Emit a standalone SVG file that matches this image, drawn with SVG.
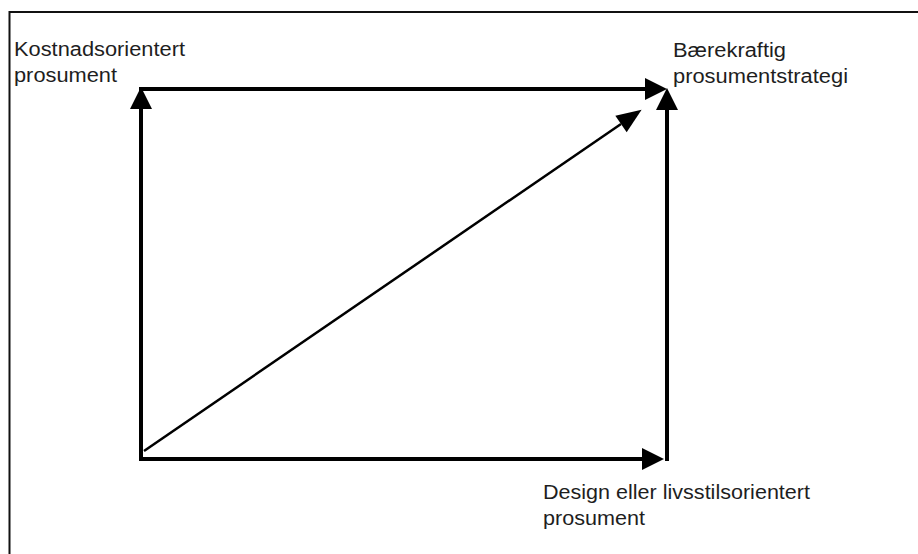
<svg xmlns="http://www.w3.org/2000/svg" width="918" height="554" viewBox="0 0 918 554">
  <style>
    .lbl { font-family: "Liberation Sans", Arial, Helvetica, sans-serif; font-size: 20px; fill: #1e1e1e; }
    .frame { stroke: #111; stroke-width: 2; fill: none; }
    .axis { stroke: #000; stroke-width: 4; fill: none; }
    .diag { stroke: #000; stroke-width: 2.5; fill: none; }
  </style>
  <defs>
    <marker id="bigArrow" viewBox="0 0 22 22" refX="0" refY="11" markerWidth="22" markerHeight="22" markerUnits="userSpaceOnUse" orient="auto" overflow="visible">
      <path d="M0,0 L22,11 L0,22 Z" fill="#000"/>
    </marker>
    <marker id="diagArrow" viewBox="0 0 25 20" refX="0" refY="10" markerWidth="25" markerHeight="20" markerUnits="userSpaceOnUse" orient="auto" overflow="visible">
      <path d="M0,0 L25,10 L0,20 Z" fill="#000"/>
    </marker>
  </defs>
  <rect width="918" height="554" fill="#fff"/>
  <g id="frame">
    <path class="frame" d="M9.5,554 L9.5,12 L918,12"/>
  </g>
  <g id="connectors">
    <line class="axis" x1="141" y1="459" x2="141" y2="109" marker-end="url(#bigArrow)"/>
    <line class="axis" x1="139" y1="89" x2="645" y2="89" marker-end="url(#bigArrow)"/>
    <line class="axis" x1="667" y1="461" x2="667" y2="110" marker-end="url(#bigArrow)"/>
    <line class="axis" x1="139" y1="459" x2="642" y2="459" marker-end="url(#bigArrow)"/>
    <line class="diag" x1="144" y1="451" x2="621" y2="124" marker-end="url(#diagArrow)"/>
  </g>
  <g id="node-kostnad">
    <text class="lbl" x="14" y="56" textLength="171" lengthAdjust="spacingAndGlyphs">Kostnadsorientert</text>
    <text class="lbl" x="14" y="82" textLength="103" lengthAdjust="spacingAndGlyphs">prosument</text>
  </g>
  <g id="node-baerekraftig">
    <text class="lbl" x="673" y="57" textLength="113" lengthAdjust="spacingAndGlyphs">Bærekraftig</text>
    <text class="lbl" x="673" y="83" textLength="175" lengthAdjust="spacingAndGlyphs">prosumentstrategi</text>
  </g>
  <g id="node-design">
    <text class="lbl" x="543" y="499" textLength="267" lengthAdjust="spacingAndGlyphs">Design eller livsstilsorientert</text>
    <text class="lbl" x="543" y="525" textLength="102" lengthAdjust="spacingAndGlyphs">prosument</text>
  </g>
</svg>
